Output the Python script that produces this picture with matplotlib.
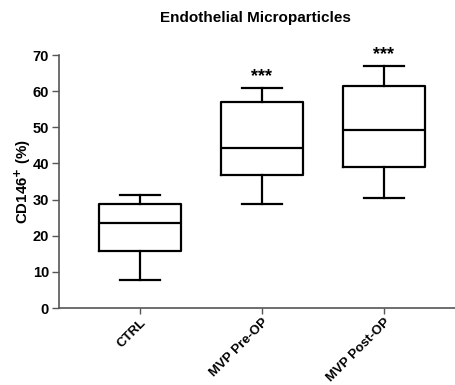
import matplotlib
matplotlib.use("Agg")
import matplotlib.pyplot as plt

plt.rcParams['font.family'] = ['Liberation Sans', 'DejaVu Sans']
plt.rcParams['font.weight'] = 'bold'

# values
groups = ["CTRL", "MVP Pre-OP", "MVP Post-OP"]
whislo = [7.7, 28.7, 30.4]
q1 = [15.9, 36.7, 39.1]
med = [23.5, 44.2, 49.2]
q3 = [28.7, 57.0, 61.3]
whishi = [31.4, 61.0, 67.1]
signif = ["", "***", "***"]

stats = []
for i, g in enumerate(groups):
    stats.append({"label": g, "whislo": whislo[i], "q1": q1[i], "med": med[i],
                  "q3": q3[i], "whishi": whishi[i], "fliers": []})

fig = plt.figure(figsize=(4.56, 3.85), dpi=100)
ax = fig.add_axes([0.129, 0.2, 0.871, 0.657])

lw = 1.6
props = dict(color="black", linewidth=lw)
ax.bxp(stats, positions=[1, 2, 3], widths=0.67, showfliers=False,
       boxprops=props, whiskerprops=props, capprops=props, medianprops=props,
       capwidths=0.33)

for i, s in enumerate(signif):
    if s:
        ax.text(i + 1, whishi[i] + 0.6, s, ha="center", va="bottom",
                fontsize=13, fontweight="bold")

ax.set_xlim(0.336, 3.59)
ax.set_ylim(0, 70)
ax.set_yticks(range(0, 71, 10))
ax.set_xticks([1, 2, 3])
ax.set_xticklabels(groups, rotation=45, ha="right", rotation_mode="anchor",
                   fontsize=9.5, fontweight="bold")
ax.tick_params(axis="y", labelsize=10.5, length=5, width=1, color="#555555", pad=2)
ax.tick_params(axis="x", length=4, width=1, color="#555555", pad=2)
for lab in ax.get_yticklabels():
    lab.set_fontweight("bold")

ax.spines["top"].set_visible(False)
ax.spines["right"].set_visible(False)
ax.spines["left"].set_color("#555555")
ax.spines["bottom"].set_color("#555555")
ax.spines["left"].set_linewidth(1.2)
ax.spines["bottom"].set_linewidth(1.2)

ax.set_ylabel(r"CD146$^{\mathbf{+}}$ (%)", fontsize=10.8, fontweight="bold",
              labelpad=0)
fig.text(0.56, 0.952, "Endothelial Microparticles", ha="center", va="center",
         fontsize=11, fontweight="bold")

fig.savefig("out.png", dpi=100)
